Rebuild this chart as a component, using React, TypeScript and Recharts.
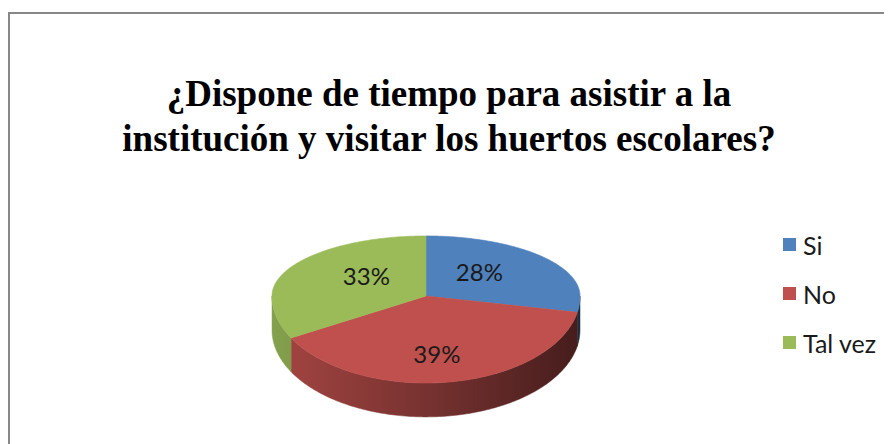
import React from 'react';
import { PieChart, Pie, Cell, Legend } from 'recharts';

// Datos de la encuesta
const CATEGORIES = ['Si', 'No', 'Tal vez'];
const VALUES = [28, 39, 33];
const TITLE_LINES = ['¿Dispone de tiempo para asistir a la', 'institución y visitar los huertos escolares?'];

const COLORS = ['#4f81bd', '#c0504d', '#9bbb59'];

const data = CATEGORIES.map((name, i) => ({ name, value: VALUES[i] }));

// proporciones de la vista 3D (fondo, frente, grosor) respecto al radio
const BACK = 0.39;
const FRONT = 0.565;
const DEPTH = 0.22;
const RAD = Math.PI / 180;

const shade = (hex: string, k: number) => {
  const n = parseInt(hex.slice(1), 16);
  const c = [(n >> 16) & 255, (n >> 8) & 255, n & 255].map((v) => Math.round(v * k));
  return `rgb(${c[0]},${c[1]},${c[2]})`;
};

const rim = (cx: number, cy: number, r: number, angle: number, frac = 1) => {
  const s = Math.sin(angle * RAD);
  return {
    x: cx + r * frac * Math.cos(angle * RAD),
    y: cy - r * frac * s * (s >= 0 ? BACK : FRONT),
  };
};

const renderSlice = (props: any) => {
  const { cx, cy, outerRadius, startAngle, endAngle, fill } = props;
  const hi = Math.max(startAngle, endAngle);
  const lo = Math.min(startAngle, endAngle);
  const depth = outerRadius * DEPTH;

  const top: string[] = [];
  for (let a = hi; a > lo; a -= 1) {
    const p = rim(cx, cy, outerRadius, a);
    top.push(`${p.x.toFixed(2)},${p.y.toFixed(2)}`);
  }
  const pe = rim(cx, cy, outerRadius, lo);
  top.push(`${pe.x.toFixed(2)},${pe.y.toFixed(2)}`);
  const facePath = `M${cx},${cy} L${top.join(' L')} Z`;

  // pared lateral visible (mitad frontal)
  const sHi = Math.min(hi, 0);
  const sLo = Math.max(lo, -180);
  let sidePath = '';
  if (sHi > sLo) {
    const upper: string[] = [];
    const lower: string[] = [];
    const angles: number[] = [];
    for (let a = sHi; a > sLo; a -= 1) angles.push(a);
    angles.push(sLo);
    angles.forEach((a) => {
      const p = rim(cx, cy, outerRadius, a);
      upper.push(`${p.x.toFixed(2)},${p.y.toFixed(2)}`);
      lower.unshift(`${p.x.toFixed(2)},${(p.y + depth).toFixed(2)}`);
    });
    sidePath = `M${upper.join(' L')} L${lower.join(' L')} Z`;
  }
  const gid = `side-${String(fill).replace('#', '')}`;

  return (
    <g>
      <defs>
        <linearGradient id={gid} gradientUnits="userSpaceOnUse" x1={cx - outerRadius} x2={cx + outerRadius} y1={0} y2={0}>
          <stop offset="0%" stopColor={shade(fill, 0.86)} />
          <stop offset="50%" stopColor={shade(fill, 0.62)} />
          <stop offset="100%" stopColor={shade(fill, 0.36)} />
        </linearGradient>
      </defs>
      {sidePath && <path d={sidePath} fill={`url(#${gid})`} stroke={`url(#${gid})`} strokeWidth={0.5} />}
      <path d={facePath} fill={fill} stroke={fill} strokeWidth={0.6} strokeLinejoin="round" />
    </g>
  );
};

const renderLabel = (props: any) => {
  const { cx, cy, midAngle, outerRadius, percent } = props;
  const p = rim(cx, cy, outerRadius, midAngle, 0.45);
  const s = Math.sin(midAngle * RAD);
  const y = p.y - 7 + (s < 0 ? -s * outerRadius * DEPTH * 0.78 : 0);
  return (
    <text
      x={p.x}
      y={y}
      textAnchor="middle"
      dominantBaseline="central"
      fill="#1a1a1a"
      fontFamily="Lato, 'Noto Sans', sans-serif"
      fontSize={24}
    >
      {`${Math.round(percent * 100)}%`}
    </text>
  );
};

const renderLegend = (props: any) => {
  const { payload = [] } = props;
  return (
    <div style={{ fontFamily: "Lato, 'Noto Sans', sans-serif", fontSize: 25, color: '#1a1a1a' }}>
      {payload.map((entry: any, i: number) => (
        <div key={`leg-${i}`} style={{ height: 49, display: 'flex', alignItems: 'center' }}>
          <span
            style={{
              display: 'inline-block',
              width: 13,
              height: 13,
              marginRight: 7,
              background: entry.color,
            }}
          />
          <span>{entry.value}</span>
        </div>
      ))}
    </div>
  );
};

const App: React.FC = () => {
  return (
    <div style={{ position: 'relative', width: 884, height: 436, overflow: 'hidden', background: '#fff' }}>
      <div
        style={{
          position: 'absolute',
          left: 0,
          top: 4,
          width: 1000,
          height: 1000,
          borderTop: '2px solid #878787',
          borderLeft: '2px solid #878787',
        }}
      />
      <div
        style={{
          position: 'absolute',
          left: 0,
          top: 63,
          width: 882,
          textAlign: 'center',
          fontFamily: "'Liberation Serif', 'Times New Roman', serif",
          fontWeight: 'bold',
          fontSize: 37,
          lineHeight: '45px',
          color: '#000',
        }}
      >
        {TITLE_LINES.map((line, i) => (
          <div key={`t-${i}`}>{line}</div>
        ))}
      </div>
      <div style={{ position: 'absolute', left: 0, top: 0 }}>
        <PieChart width={884} height={436}>
          <Pie
            data={data}
            dataKey="value"
            nameKey="name"
            cx={413}
            cy={283}
            outerRadius={154}
            startAngle={90}
            endAngle={-270}
            stroke="none"
            shape={renderSlice}
            inactiveShape={renderSlice}
            activeShape={renderSlice}
            label={renderLabel}
            labelLine={false}
            isAnimationActive={false}
          >
            {data.map((entry, index) => (
              <Cell key={`cell-${index}`} fill={COLORS[index % COLORS.length]} />
            ))}
          </Pie>
          <Legend
            layout="vertical"
            align="right"
            verticalAlign="top"
            content={renderLegend}
            itemSorter={(item: any) => CATEGORIES.indexOf(item.value)}
            wrapperStyle={{ left: 775, top: 212, width: 110 }}
          />
        </PieChart>
      </div>
    </div>
  );
};

export default App;
